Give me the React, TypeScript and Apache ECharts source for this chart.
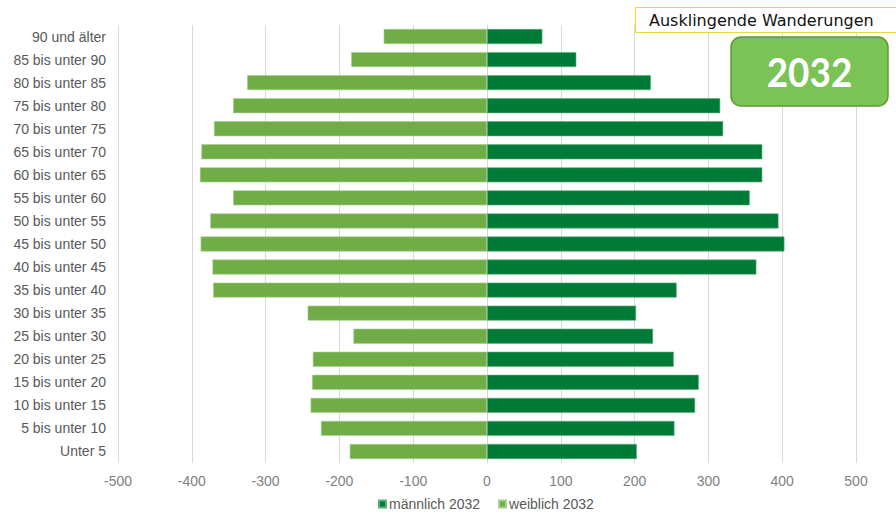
import React, { useEffect, useRef } from "react";
import * as echarts from "echarts";

const categories = [
  "Unter 5",
  "5 bis unter 10",
  "10 bis unter 15",
  "15 bis unter 20",
  "20 bis unter 25",
  "25 bis unter 30",
  "30 bis unter 35",
  "35 bis unter 40",
  "40 bis unter 45",
  "45 bis unter 50",
  "50 bis unter 55",
  "55 bis unter 60",
  "60 bis unter 65",
  "65 bis unter 70",
  "70 bis unter 75",
  "75 bis unter 80",
  "80 bis unter 85",
  "85 bis unter 90",
  "90 und älter",
];

const maleValues = [203, 254, 282, 287, 253, 225, 202, 257, 365, 403, 395, 356, 373, 373, 320, 316, 222, 121, 75];
const femaleValues = [-186, -225, -239, -237, -236, -181, -243, -371, -372, -388, -375, -344, -389, -387, -370, -344, -325, -184, -140];

const seriesNames = ["männlich 2032", "weiblich 2032"];
const titleText = "Ausklingende Wanderungen";
const yearText = "2032";

export default function App() {
  const ref = useRef<HTMLDivElement>(null);
  useEffect(() => {
    document.body.style.margin = "0";
    if (!ref.current) return;
    const chart = echarts.init(ref.current, null, { renderer: "svg" });
    chart.setOption({
      animation: false,
      backgroundColor: "#ffffff",
      grid: { left: 118, right: 40, top: 25, bottom: 52, containLabel: false },
      legend: {
        data: seriesNames,
        left: 373,
        top: 492,
        itemWidth: 7,
        itemHeight: 7,
        itemGap: 18,
        icon: "rect",
        textStyle: { color: "#595959", fontSize: 14, fontFamily: "Liberation Sans", padding: [0, 0, 0, -2] },
      },
      xAxis: {
        type: "value",
        min: -500,
        max: 500,
        interval: 100,
        axisLine: { show: false },
        axisTick: { show: false },
        splitLine: { show: true, lineStyle: { color: "#d9d9d9", width: 1 } },
        axisLabel: { color: "#7f7f7f", fontSize: 14, fontFamily: "Liberation Sans", margin: 11 },
      },
      yAxis: {
        type: "category",
        data: categories,
        axisLine: { show: false },
        axisTick: { show: false },
        axisLabel: { color: "#595959", fontSize: 14, fontFamily: "Liberation Sans", margin: 12 },
      },
      series: [
        {
          name: seriesNames[0],
          type: "bar",
          data: maleValues,
          barWidth: 15,
          barGap: "-100%",
          itemStyle: { color: "#007a37", borderColor: "#5fae7c", borderWidth: 0.6 },
        },
        {
          name: seriesNames[1],
          type: "bar",
          data: femaleValues,
          barWidth: 15,
          barGap: "-100%",
          itemStyle: { color: "#70ad47", borderColor: "#a8d08d", borderWidth: 0.6 },
        },
      ],
      graphic: [
        {
          type: "rect",
          shape: { x: 635.5, y: 7.5, width: 270, height: 25 },
          style: { fill: "#ffffff", stroke: "#e8dc3c", lineWidth: 1.2 },
          z: 10,
        },
        {
          type: "text",
          x: 649,
          y: 20,
          style: {
            text: titleText,
            fill: "#111111",
            fontSize: 16,
            fontFamily: "DejaVu Sans",
            verticalAlign: "middle",
          },
          z: 11,
        },
        {
          type: "rect",
          shape: { x: 731, y: 37, width: 157, height: 69, r: 10 },
          style: { fill: "#7bc257", stroke: "#5e9a2e", lineWidth: 1.5 },
          z: 10,
        },
        {
          type: "text",
          x: 809.5,
          y: 71,
          scaleX: 0.9,
          style: {
            text: yearText,
            fill: "#ffffff",
            fontSize: 41,
            fontWeight: "bold",
            fontFamily: "Lato",
            align: "center",
            verticalAlign: "middle",
          },
          z: 11,
        },
      ],
    });
    return () => chart.dispose();
  }, []);
  return <div ref={ref} style={{ width: 896, height: 515 }} />;
}
